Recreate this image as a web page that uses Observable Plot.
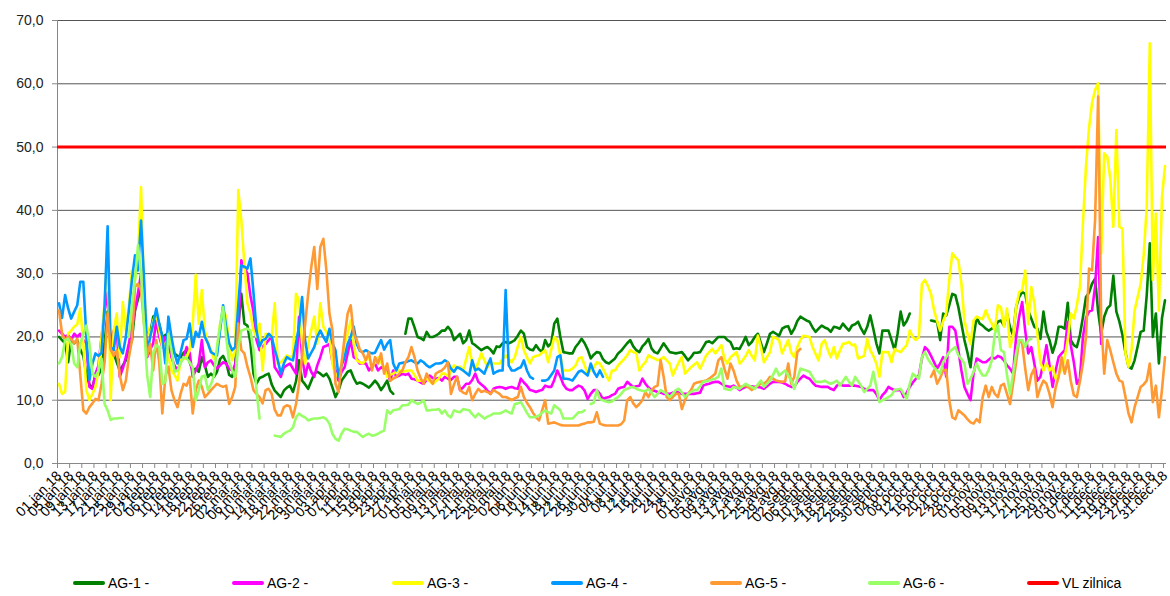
<!DOCTYPE html>
<html><head><meta charset="utf-8">
<script src="https://cdn.jsdelivr.net/npm/d3@7"></script>
<script src="https://cdn.jsdelivr.net/npm/@observablehq/plot@0.6"></script>
<style>
body{margin:0;background:#fff;font-family:"Liberation Sans",Arial,sans-serif;}
#chart{width:1170px;height:556px;}
#legend{position:relative;width:1170px;height:40px;}
.item{position:absolute;top:19px;display:flex;align-items:center;font-size:14px;color:#000;height:16px;white-space:nowrap;}
.sw{width:32px;height:4px;margin-right:3px;border-radius:2px;}
</style></head><body>
<div id="chart"></div><div id="legend"></div>
<script>
const monthLengths = [31,28,31,30,31,30,31,31,30,31,30,31];
const tickLabels = ["01.jan.18","05.jan.18","09.jan.18","13.jan.18","17.jan.18","21.jan.18","25.jan.18","29.jan.18",
"02.feb.18","06.feb.18","10.feb.18","14.feb.18","18.feb.18","22.feb.18","26.feb.18",
"02.mar.18","06.mar.18","10.mar.18","14.mar.18","18.mar.18","22.mar.18","26.mar.18","30.mar.18",
"03.apr.18","07.apr.18","11.apr.18","15.apr.18","19.apr.18","23.apr.18","27.apr.18",
"01.maj.18","05.maj.18","09.maj.18","13.maj.18","17.maj.18","21.maj.18","25.maj.18","29.maj.18",
"02.jun.18","06.jun.18","10.jun.18","14.jun.18","18.jun.18","22.jun.18","26.jun.18","30.jun.18",
"04.jul.18","08.jul.18","12.jul.18","16.jul.18","20.jul.18","24.jul.18","28.jul.18",
"01.avg.18","05.avg.18","09.avg.18","13.avg.18","17.avg.18","21.avg.18","25.avg.18","29.avg.18",
"02.sept.18","06.sept.18","10.sept.18","14.sept.18","18.sept.18","22.sept.18","26.sept.18","30.sept.18",
"04.oct.18","08.oct.18","12.oct.18","16.oct.18","20.oct.18","24.oct.18","28.oct.18",
"01.nov.18","05.nov.18","09.nov.18","13.nov.18","17.nov.18","21.nov.18","25.nov.18","29.nov.18",
"03.dec.18","07.dec.18","11.dec.18","15.dec.18","19.dec.18","23.dec.18","27.dec.18","31.dec.18"];
const yTicks = [0,10,20,30,40,50,60,70];
const seriesNames = ["AG-1 -","AG-2 -","AG-3 -","AG-4 -","AG-5 -","AG-6 -"];
const seriesColors = ["#008000","#ff00ff","#ffff00","#0099ff","#ff9933","#99ff66"];
const limitName = "VL zilnica";
const limitValue = 50;
const limitColor = "#ff0000";
const N = null;

// daily values, one sub-array per month (jan..dec)
const ag1 = [
[20,19.5,19,16,19.5,19,19.5,18,17,14, 12.5,12,14,14,15,19,24,18,17.4,16, 14.7,15.5,16.3,18,19.5,24.2,26,27.9,25.3,21, 20.5],
[23.2,23.5,22,20,20.3,20.5,18.5,17.4,17,16.8, 17.5,17.9,16,14.7,15,14.5,16.8,15.5,13.7,14.2, 13.7,14.5,16.5,17,16,14,13.7,15.8],
[22,26.8,22.1,21.8,19,14.2,12.6,13.5,13.7,14, 14.2,12.5,11.5,11,10.5,11.5,12,12.3,11.3,13, 16.3,13.1,12.5,11.8,13,14.2,14.5,14.2,13.8,14.2, 13.4],
[12,10.5,11.5,13.1,13.8,14.5,14.7,13.5,12.6,12.8, 12.6,12.3,12,12.5,13.1,12.5,11.6,12.3,13.1,11.5, 11,N,N,N,20.5,22.9,22.9,21.5,20,19.8],
[19.5,20.8,20,20,20.2,20.5,21,21,21.6,21, 19.5,20,20.5,19,19.5,21,19,18.7,18.3,17.9, 18.2,18.4,18,17.4,18.5,18.4,19,19.2,19,19.2, 19.5],
[20.2,21,20.5,18.4,18,17.9,18.7,18,17.6,19.5, 18.5,19,22.1,22.9,20,17.6,17.5,17.4,17.4,18.4, 19,19.7,19,18,16.6,17.2,17.6,17.5,16.5,16],
[15.8,16.2,16.6,17.4,17.8,18.4,19,19.5,18.5,17.9, 17.6,18.5,19,19.7,18.2,17.6,17.4,18.2,19,18.3, 17.6,17.5,17.4,17.5,17.6,17,16.3,16.8,17.5,17.5, 17.6],
[18.4,19.2,19.3,19,19.5,20,20,20,19.5,19.2, 18.1,18.2,18.1,19,20,18.7,19.2,20,20.5,19, 17.6,19,20.5,20.8,20.5,20.2,21.3,21.6,21.7,20.5, 21.3],
[22.5,23.2,22.9,22.6,22.4,21.5,20.8,21.3,21.8,21.5, 21.3,20.8,21.6,21.5,21.3,22.1,21.5,21,21.8,22, 22.4,21.3,20.5,21.6,23.4,21.3,19,17.4,21,21],
[21,19.5,17.9,20.5,24,21.8,22.5,23.7,N,N, N,N,N,N,22.6,22.5,22.4,19.5,23.7,23.4, 25,26.8,26.6,24.7,22.1,19.5,17.5,15.2,20,23.1, 22.1],
[21.8,21.3,21,21.3,21.6,22.4,22.6,21.8,23.7,21.5, 20.3,24.7,26.3,27.1,26.8,24.2,22.9,21.6,21.3,19.7, 24,20.8,19.5,17.5,19,21.6,21.6,21.3,25.4,19.5],
[18.7,18.4,20.3,23.1,26.3,27,28.4,29.2,24,20.5, 23.2,24.5,25,29.7,24,22.4,20.3,17.5,15.3,15, 16.3,18.5,20.8,21,26.6,34.8,20,23.7,15.8,22.9, 25.8]
];
const ag2 = [
[21,20.5,20,20.3,19.5,20.5,20,20.5,19.5,19, 12.1,11.8,14.2,15.5,20,24,27,19,21,21, 13.7,15,16.8,19,21.6,24.2,27,30,24,16.8, 18],
[19,22.6,20,18.4,20,19,16.8,15.5,14.7,16, 16.8,18.4,17.5,13.7,14.7,15.8,19.5,15.2,16,16.3, 15.5,15,15.5,16,15.8,15,14.7,15.5],
[20,32.1,31,30,26.5,24,19.5,17.9,18.5,18.9, 19.5,20,15.2,14.5,13.7,15.2,15.5,15.8,15,14.2, 23.2,17,13.7,15.8,14.5,13.7,15.5,16.8,18.4,18.6, 18.9],
[16,14.7,13.1,14.5,15.2,17.4,19.5,16.8,16.5,15.8, 15.8,15.8,14.7,15.3,15.8,14.7,15.2,15,14.5,13.1, 14.7,13.7,13.9,14.2,14,14.2,13.4,13.3,13.1,12.8],
[12.6,13.2,13.9,13.5,13.4,13.5,13.1,13.7,13.4,13.2, 13.7,13.7,11.6,12,12.6,12.6,13.2,14.2,12.9,12.5, 12.1,11.5,11,11.8,12,12.1,12,11.8,12,12.1, 11.9],
[11.8,13.4,12.8,12.3,11.6,11.5,11.3,11.5,11.6,12.3, 12.1,12.1,13.2,14.7,13.7,12.5,11.8,11.6,11.6,12, 12.3,12.1,11.5,10.2,11,11.6,11.6,11,10.2,10.4],
[10.5,10.8,11,11.8,12,12.1,12.9,12.5,12.1,12.2, 12.3,13.4,12.6,12,11.6,11.5,11.3,11.2,11,11, 11,11.2,11.3,11.2,11,11,11,11,11,11.1, 11.2],
[12.3,12.5,12.6,12.8,12.9,12.9,12.6,12.3,12.2,12.1, 12.3,12,11.6,11.9,12.1,12.2,12.2,12.1,12.1,12, 11.8,12.2,12.6,12.9,12.9,12.9,12.8,12.6,12.3,12.1, 12.1],
[12.9,13.4,13.9,13.6,13.4,12.8,12.3,12.2,12.1,12.1, 12.1,11.8,11.6,12.3,12.6,12.3,12.3,12.3,12.3,12.3, 12.2,12.1,11.8,11.6,11.6,11.6,11,10,10.8,11.3],
[12.1,11.8,11.6,11.6,11.6,10.5,11.2,12.1,12.8,13.4, 13.9,16.6,18.4,17.9,17,16,15,15.8,16.8,13.7, 21.6,21.6,21,17.9,14.7,12.1,11,10,14.2,16.6, 16.3],
[16,16,16.4,16.8,16.6,17,16.8,16.3,15.5,15, 14.2,20,23.2,25.5,21,17.4,18.4,15.8,13.1,13.7, 16,18.7,15.5,12.1,14.7,16.8,17.4,17.9,22.4,18.7],
[16,12.6,13.4,20,23,24,24.2,28,35.8,18.9]
];
const ag3 = [
[12.6,11,11.3,20.5,21,21.6,22,24.5,19,11.6, 10,11,12.1,14.7,20,25.3,34,10,21,23.7, 16.8,25.5,21,25,30.5,29,33,43.7,26.8,21.6, 20],
[22.6,23.7,21,18.4,19,17,14.7,14,13.1,16.3, 16.5,16.8,18,22,29.8,22.1,27.4,21,19,18, 16.5,18,22,24.2,23.2,19,16.3,18],
[43.2,38.4,31.6,25.3,23.7,21,20,22.1,14.7,20.5, 20.3,20,25.3,15.8,16,16.5,17.1,16.8,17,26.8, 25.8,19,15.8,18.9,21,23.2,18.9,25.3,21.6,20.8, 20],
[15.8,13.7,14.5,15.8,18.9,20.5,22.6,18.9,16.3,16, 15.8,16.5,16.8,15.2,16,16.8,16,15.2,13.7,14, 14.2,14.5,14.7,14.5,14.6,14.7,14.7,14,13.1,13.1],
[13.1,13.4,13,12.6,13,13.4,14.2,14.2,13.8,14.5, 15.5,15.2,15.3,14.7,16.5,18.4,15.8,14.7,16,17.4, 16.3,15.2,15.8,15.8,15.8,15.8,16.5,17.1,16.5,16, 16.8],
[18.5,20,17.9,16.8,15.8,16.8,17,17.1,17.5,17.9, 16,18,20,19.5,17,14.7,14.7,14.7,15,15.5, 16.6,16.8,15.5,14.2,14.8,15.2,16,15.8,15,14],
[13.1,14.7,14.7,15.5,16,16.5,17.1,17.9,17.6,17.4, 14.7,15.5,16,17.1,16.8,16.6,16.3,16.5,16.8,16.3, 15.8,13.9,15,16,16.8,14.2,14.7,15.2,15.6,16, 15],
[16,17.1,17.6,18.1,17.4,18,18.7,16.5,15.8,16.8, 17.2,17.6,15.8,16.3,17,17.9,17,16.3,20.2,18.4, 16,16.8,17.6,20,19.8,19.5,17.4,18.5,19.5,17.5, 16.8],
[18.4,19.5,20.2,20.1,20,18.4,17.3,16.3,18.9,19.5, 18,16.8,18.4,16.6,17.8,18.9,19,19.2,18.7,18.8, 16.6,16.8,17,19.7,17.9,17,15.8,13.7,17.6,17.6],
[17.6,16,18.1,17.8,17.6,18.2,18.7,21,20,19.5, 20,28.4,29,28,26.8,24.2,22.5,21,22.5,23.7, 29,33.2,32.6,32.1,28.4,22.6,20.5,18.9,22.6,23.2, 23],
[22.8,24.2,23,22.1,21,25,24.7,21.6,24.5,18.4, 20,24.7,27.1,27.4,30.5,22,27.9,25.3,20.5,16, 14.7,15.8,14.7,15.3,13.4,14.2,14.7,16.8,19.5,23.7],
[22.9,25,27.9,38,47,53,57,59,60.1,33.2, 49,48.5,45,37.4,52.7,37.4,37.1,17.4,15.3,18, 24.2,26.3,28.4,33,40.6,66.4,29,39.5,24.2,42, 47]
];
const ag4 = [
[25.3,23,26.6,24.5,22.9,24,25,28.7,28.7,20, 13.2,15.8,17.4,17,17.5,25,37.5,18.4,17.9,21.6, 18.4,17.4,20,24.2,29,32.9,30.5,38.4,29,17.4, 20],
[22,24.5,22,20,15.8,23.2,20,17.4,15.8,17.5, 19.5,19.7,22.1,18.4,20.8,20,22.4,20,19,17.6, 17.3,17.1,21,25,21.6,19,17.9,18.4],
[25,31.3,31.1,30.8,32.4,27,21,18.5,19.5,19.7, 20.5,20,18,16.3,14.2,15.8,16.8,16.5,16.3,19, 21.6,26.3,19.5,16.6,17.5,18.4,20,21,20,19.2, 21.3],
[19,17.9,13.7,15.5,16.8,18.9,20,21.6,18.9,17.8, 17.6,17.9,17.6,17.4,17.5,18.5,19.5,18,18.9,19.5, 15.8,14.7,15.8,15.9,16,16.2,16.3,16,15.8,16.3],
[16,15.5,15.2,15.5,15.8,15.8,15.9,16.3,16,15, 14.5,15.2,15,14.7,14.3,13.9,16.3,14.7,15,14.6, 14.2,15.5,16.6,14.2,14.5,14.7,14.7,27.4,15.5,14.7, 14.7],
[15,15.2,16.3,14.7,13.7,13.4,N,N,13.1,13.1, 13.3,14,14.7,16.8,17.1,13.4,13.4,13.3,13.1,13.8, 14.5,14.7,14.3,13.9,15.8,14.5,13.7,14.7,13.7,N],
[],[],[],[],[],[]
];
const ag5 = [
[24.2,20.5,19.5,20,19.7,19,19.7,14,8.4,7.9, 8.9,9.5,10.2,10,12.6,16,23.7,18,17,17.9, 14,11.6,13.1,16.8,19.5,27.9,28.4,27.4,22,17, 18.9],
[14.7,19.5,16,7.9,13.7,15.3,11.6,10,8.9,11, 12.6,12.3,13.7,7.9,11.6,13.1,12.1,10.5,11,11.6, 12.1,12.6,12.3,12.1,12.3,9.4,10.5,12.1],
[22.1,17.9,17.4,15.3,13.7,11.6,11,10.5,9.5,11.6, 11.8,11,8.5,7.6,7.6,8.9,9.2,9,7.3,9.4, 12.6,17,22,26.8,31,34.2,27.6,34.2,35.5,30.5, 23.7],
[21,12.6,11.3,15.8,20,23.7,25,20.5,19.5,18, 17.4,16.3,17.6,14.7,16.8,15.8,17.4,14.2,15.8,13.1, 13.4,13.7,14.2,14.7,16,16.8,18.4,16.8,14.7,13.5],
[12.6,14.2,13.3,12.6,14.2,14.5,14.7,15.2,16,11, 12.5,13.7,11.6,11.2,11,12.1,10,11,11.8,11.3, 11.5,11.3,11,11.6,11.3,11,10.5,10.5,10.3,10, 10.3],
[10.5,12.1,10.5,9.6,8.9,8,7.3,6.8,8.4,10, 6.3,6.4,6.5,6.3,6.1,6,6,6,6,6, 6,6.2,6.3,6.5,6.5,6.6,8.1,6.3,6.1,6],
[6,6,6,6,6.2,6.8,10,10.5,9.5,8.9, 9.4,10,11.3,10.5,11.5,12.1,12.3,16.3,13.7,10.5, 10,10.5,11,11,8.6,10,11,11.6,12.6,12.8, 12.9],
[13,13.1,13.4,13.8,14.2,16.3,16.8,15,13.4,15.8, 14.7,13.1,12.1,12.2,12.3,12,11.6,12,12.3,12.6, 12.6,13,13.7,13.4,13.1,13,12.9,13,15.8,12.6, 13.7],
[17.6,18.1],
[N,N,N,N,N,N,N,N,N,N, N,N,N,N,13.7,14.7,12.6,13.5,14.7,14.8, 10,7.3,7,8.4,8,7.6,7,6.5,6.3,7, 6.5],
[10.5,12.3,10.5,12.1,11,10.5,12.3,12.6,11,9.4, 12.6,16,19.5,19,15,11.6,14,15,10.5,12, 13.1,12.6,11,8.9,12,13.7,16.8,14.2,16.3,13],
[10.8,10.5,13,15.8,20,30.8,30.5,38.5,58,22.6, 14.2,19.5,17.9,16,14.2,13.1,12.9,10.5,7.9,6.5, 8.9,10.5,12.1,12.5,13.1,15.8,9.7,12.3,7.3,11.6, 16.8]
];
const ag6 = [
[15.8,16.8,19.5,19.7,18.9,15.8,15.2,18.9,20.5,21.8, 18.9,14.2,13.7,14.7,16.6,9.4,8.4,6.9,7.1,7.1, 7.2,7.2,N,20,25,29,34.5,30,21.6,14, 10.5],
[17.4,18.7,18.4,12.6,12.9,20.5,17.9,14.5,14.7,15.8, 16.8,16.6,16,15.2,10,11.6,13.7,13.9,11.6,12.5, 13.9,18.4,21.8,24.7,20,16,14.7,13.7],
[18.4,21,21.2,21.3,21,17.9,11.6,7.1,N,N, N,N,4.4,4.3,4.2,4.7,5,5.2,5.7,7.3, 7.9,7.5,7.3,6.8,7,7.1,7.1,7.2,7.3,7, 6.3],
[4.7,3.9,3.6,4.7,5.5,5.4,5.2,5,5,4.6, 4.2,4.5,4.7,4.4,4.5,4.7,5,5.2,8.4,7.9, 8.4,8.5,8.6,9.2,9.2,9.3,10,9.7,9.4,9.6],
[10,8.4,8.4,8.5,8.5,8.6,7.9,8.4,7.6,7.3, 8.4,8.2,8.1,8.6,8.5,8.4,7.8,7.3,7.9,7.5, 7.1,7.4,7.6,7.9,7.9,7.9,8.1,8.4,8.1,7.9, 9.4],
[9.5,9.7,8.9,8,7.3,7.3,7.4,7.6,8,8.4, 8.1,7.9,9.2,8.8,8.4,7.1,7.1,7.1,7.1,7.6, 8.1,8.1,8.4,N,9.4,9.6,11.6,10.2,10,9.8],
[9.7,9.8,10.2,10.5,11,11.6,11.8,12,12.1,11.8, 11.6,11.5,11.4,11.8,11.2,10.5,11,11.6,11.3,11, 10.5,11,11.6,11.8,11.2,10.5,11,11.3,11.6,11.6, 12.2],
[12.9,13,13.1,13.3,13.4,13.7,15,11.8,11.7,11.6, 12.1,12,11.8,12.2,12.6,12.3,12.1,11.8,12.5,13.1, 12.1,12.6,13.1,14,15,13.9,14.3,14.7,13.9,13.1, 11.8],
[13.4,15,14.8,14.7,14.5,13.7,12.9,12.9,12.9,13.1, 12.8,12.6,12.8,13.1,12.3,13,13.7,12.9,12.3,13.7, 13,12.3,11.3,11.8,12.3,14.5,12.1,9.7,10,10.2],
[10.5,10.8,11.6,11.7,11.8,11,10.2,12.6,14.2,13.8, 13.4,16.8,17.6,16.5,15.8,15.2,14.7,14.2,16,16.8, 17.6,18,18.4,17.1,16.5,15.8,12.6,13.4,14.5,15.8, 14.7],
[13.9,13.9,14.8,16.3,20.5,21.8,17.9,17.6,14,11, 14.2,17.4,19.5,19.5,18.4,19.5,19.7],
[]
];

const allSeries = [ag1, ag2, ag3, ag4, ag5, ag6];
const monthStarts = monthLengths.map((_, i) => d3.sum(monthLengths.slice(0, i)));
const nDays = d3.sum(monthLengths);
function toRows(months) {
  const rows = [];
  months.forEach((vals, m) => {
    for (let j = 0; j < monthLengths[m]; j++) {
      const v = vals[j];
      rows.push({day: monthStarts[m] + j, v: (v === undefined || v === null) ? NaN : v});
    }
  });
  return rows;
}
const tickDays = tickLabels.map((_, i) => i * 4);
const labelByDay = new Map(tickDays.map((d, i) => [d, tickLabels[i]]));

const marks = [
  Plot.ruleY(yTicks.filter(d => d > 0), {stroke: "#555", strokeWidth: 1}),
  Plot.ruleX([-0.5], {stroke: "#888", strokeWidth: 1}),
  Plot.ruleY([0], {stroke: "#888", strokeWidth: 1}),
  Plot.axisY({ticks: yTicks, tickSize: 5, tickPadding: 9, fontSize: 14, stroke: "#888", fill: "#222", label: null,
    tickFormat: d => d.toFixed(1).replace(".", ",")}),
  Plot.axisX({ticks: tickDays.map(d => d - 0.5), tickSize: 5, tickFormat: () => "", stroke: "#888", label: null}),
  Plot.axisX({ticks: tickDays, tickSize: 0, tickPadding: 10, tickRotate: -45, fontSize: 14, fill: "#000", label: null,
    tickFormat: d => labelByDay.get(d)})
];
allSeries.forEach((s, i) => {
  marks.push(Plot.line(toRows(s), {x: "day", y: "v", stroke: seriesColors[i], strokeWidth: 2.6, strokeLinejoin: "round"}));
});
marks.push(Plot.ruleY([limitValue], {stroke: limitColor, strokeWidth: 3}));

const chart = Plot.plot({
  width: 1170, height: 556,
  marginTop: 20, marginBottom: 93, marginLeft: 57, marginRight: 4,
  x: {domain: [-0.5, nDays - 0.5], axis: null},
  y: {domain: [0, 70], axis: null},
  style: {fontFamily: "'Liberation Sans', Arial, sans-serif", background: "#fff", overflow: "visible"},
  marks
});
document.getElementById("chart").appendChild(chart);

const legendItems = seriesNames.map((n, i) => ({name: n, color: seriesColors[i]}));
legendItems.push({name: limitName, color: limitColor});
const legendLefts = [73, 232, 392, 551, 710, 868, 1027];
const legend = document.getElementById("legend");
legendItems.forEach((it, i) => {
  const el = document.createElement("div");
  el.className = "item";
  el.style.left = legendLefts[i] + "px";
  el.innerHTML = `<span class="sw" style="background:${it.color}"></span><span>${it.name}</span>`;
  legend.appendChild(el);
});
</script></body></html>
